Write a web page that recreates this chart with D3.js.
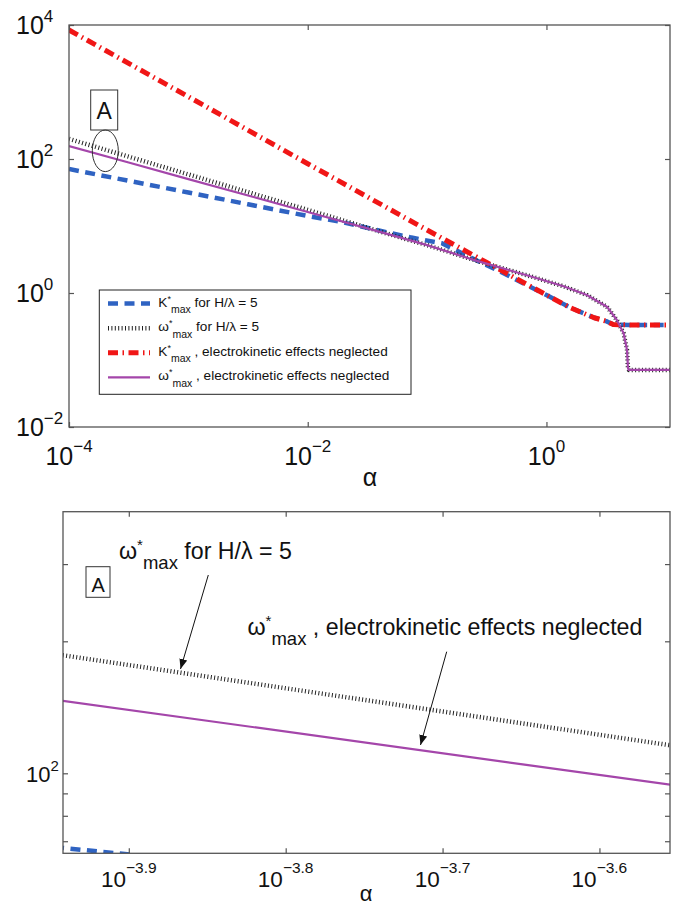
<!DOCTYPE html>
<html><head><meta charset="utf-8">
<script src="https://cdn.jsdelivr.net/npm/d3@7"></script>
<style>
body{margin:0;background:#fff}
svg{display:block}
text{font-family:"Liberation Sans",Arial,Helvetica,sans-serif;fill:#111;white-space:pre}
</style>
</head><body>
<svg id="c" width="678" height="911"></svg>
<script>
// ---------- data ----------
const alphaBlue = [0.0001,0.000316,0.001,0.00316,0.01,0.0187,0.0379,0.0721,0.133,0.251,0.398,0.631,1.0,1.585,2.512,3.162,3.631,5.0,10.84];
const kBlue     = [70.8,47.3,31.6,21.1,14.1,11.6,8.71,6.78,5.52,3.16,2.14,1.41,0.933,0.603,0.427,0.380,0.339,0.333,0.333];

const alphaRed = [0.0001,0.001,0.01,0.1,0.316,1.0,1.585,2.512,3.162,3.631,5.0,10.84];
const kRed     = [8414,851,85.1,8.71,2.85,0.933,0.603,0.427,0.380,0.339,0.333,0.333];

const alphaOmega = [0.0001,0.000316,0.001,0.00316,0.01,0.0316,0.0631,0.1,0.261,0.731,1.39,2.18,3.21,3.89,4.43,4.73,4.82,4.90,10.84];
const wPurple    = [156.3,88.5,50.1,28.5,16.2,9.23,6.53,5.19,3.02,1.78,1.26,0.933,0.625,0.395,0.251,0.141,0.0759,0.0710,0.0710];
const wDotted    = [199.5,108.4,58.9,32.0,17.4,9.44,6.53,5.19,3.02,1.78,1.26,0.933,0.625,0.395,0.251,0.141,0.0759,0.0710,0.0710];

const xTicksTop = [1e-4,1e-2,1];
const xTickExpTop = ["\u22124","\u22122","0"];
const yTicksTop = [1e-2,1,1e2,1e4];
const yTickExpTop = ["\u22122","0","2","4"];

const xTicksBot = [1.2589e-4,1.5849e-4,1.9953e-4,2.5119e-4];
const xTickExpBot = ["\u22123.9","\u22123.8","\u22123.7","\u22123.6"];
const yTicksBotMajor = [100];
const yTickExpBot = ["2"];
const yTicksBotMinor = [70,80,90,200,300];

const legendLabels = [
  {sym:"K", rest:" for H/\u03bb = 5"},
  {sym:"\u03c9", rest:" for H/\u03bb = 5"},
  {sym:"K", rest:" , electrokinetic effects neglected"},
  {sym:"\u03c9", rest:" , electrokinetic effects neglected"}
];

// ---------- styles ----------
const COL_BLUE="#2f63c2", COL_RED="#f01616", COL_PURPLE="#a446aa", COL_DOT="#222";
const FRAME="#555";

const svg = d3.select("#c");
const defs = svg.append("defs");
defs.append("clipPath").attr("id","clipT").append("rect").attr("x",69).attr("y",25).attr("width",601).attr("height",402);
defs.append("clipPath").attr("id","clipB").append("rect").attr("x",63).attr("y",511.7).attr("width",607).attr("height",341.6);
defs.append("marker").attr("id","arr").attr("viewBox","0 0 10 10").attr("refX",10).attr("refY",5)
  .attr("markerWidth",10).attr("markerHeight",10).attr("markerUnits","userSpaceOnUse").attr("orient","auto")
  .append("path").attr("d","M0,1 L10,5 L0,9 Z").attr("fill","#111");

function zip(a,b){return a.map((v,i)=>[v,b[i]]);}

const styles = {
  blue:  {stroke:COL_BLUE, w:4.5, dash:"10 6.5"},
  dot:   {stroke:COL_DOT, w:4.5, dash:"1 2.4"},
  red:   {stroke:COL_RED, w:5, dash:"10 4.5 1.5 4.5"},
  purple:{stroke:COL_PURPLE, w:2.2, dash:null}
};
const series = [
  {key:"blue", d:zip(alphaBlue,kBlue)},
  {key:"dot", d:zip(alphaOmega,wDotted)},
  {key:"red", d:zip(alphaRed,kRed)},
  {key:"purple", d:zip(alphaOmega,wPurple)}
];

function powLabel(g, x, y, exp, fs, sfs, rise, anchor){
  const t = g.append("text").attr("x",x).attr("y",y).attr("text-anchor",anchor).style("font-size",fs+"px");
  t.append("tspan").text("10");
  t.append("tspan").attr("dy",-rise).style("font-size",sfs+"px").text(exp);
  return t;
}

function drawPanel(opt){
  const {x,y,clip,L,R,T,B} = opt;
  const g = svg.append("g");
  g.append("rect").attr("x",L).attr("y",T).attr("width",R-L).attr("height",B-T).attr("fill","#fff");
  const lines = g.append("g").attr("clip-path",`url(#${clip})`);
  const line = d3.line().x(d=>x(d[0])).y(d=>y(d[1]));
  series.forEach(s=>{
    const st = styles[s.key];
    lines.append("path").attr("d",line(s.d)).attr("fill","none").attr("stroke",st.stroke)
      .attr("stroke-width",st.w).attr("stroke-dasharray",st.dash).attr("stroke-linejoin","round");
  });
  const tl = 5;
  g.append("g").attr("transform",`translate(0,${B})`).call(d3.axisBottom(x).tickValues(opt.xt).tickSize(-tl).tickFormat(""));
  g.append("g").attr("transform",`translate(0,${T})`).call(d3.axisTop(x).tickValues(opt.xt).tickSize(-tl).tickFormat(""));
  g.append("g").attr("transform",`translate(${L},0)`).call(d3.axisLeft(y).tickValues(opt.yt).tickSize(-tl).tickFormat(""));
  g.append("g").attr("transform",`translate(${R},0)`).call(d3.axisRight(y).tickValues(opt.yt).tickSize(-tl).tickFormat(""));
  g.selectAll(".domain").remove();
  g.selectAll(".tick line").attr("stroke",FRAME).attr("stroke-width",1.2);
  g.append("rect").attr("x",L).attr("y",T).attr("width",R-L).attr("height",B-T)
    .attr("fill","none").attr("stroke",FRAME).attr("stroke-width",1.3);
  return g;
}

// ---------- top panel ----------
const xT = d3.scaleLog().domain([1e-4,10.84]).range([69,670]);
const yT = d3.scaleLog().domain([1e-2,1e4]).range([427,25]);
drawPanel({x:xT,y:yT,clip:"clipT",L:69,R:670,T:25,B:427,xt:xTicksTop,yt:yTicksTop});

xTicksTop.forEach((v,i)=>powLabel(svg, xT(v), 465, xTickExpTop[i], 25, 17, 13, "middle"));
yTicksTop.forEach((v,i)=>powLabel(svg, 16, yT(v)+9, yTickExpTop[i], 25, 17, 12, "start"));
svg.append("text").attr("x",370).attr("y",486).attr("text-anchor","middle").style("font-size","25px").text("\u03b1");

svg.append("rect").attr("x",90.7).attr("y",90).attr("width",27).attr("height",40).attr("fill","#fff").attr("stroke","#333").attr("stroke-width",1);
svg.append("text").attr("x",104.2).attr("y",118.5).attr("text-anchor","middle").style("font-size","23px").text("A");
svg.append("ellipse").attr("cx",105.3).attr("cy",150.8).attr("rx",13).attr("ry",20.8).attr("fill","none").attr("stroke","#333").attr("stroke-width",1);

// legend
const lg = svg.append("g");
lg.append("rect").attr("x",99.3).attr("y",290).attr("width",311.7).attr("height",104.3).attr("fill","#fff").attr("stroke","#222").attr("stroke-width",1);
const rowsY = [303.5,328.3,352.8,377.3];
["blue","dot","red","purple"].forEach((k,i)=>{
  const st = styles[k];
  lg.append("line").attr("x1",108).attr("x2",150).attr("y1",rowsY[i]).attr("y2",rowsY[i])
    .attr("stroke",st.stroke).attr("stroke-width",st.w).attr("stroke-dasharray",st.dash);
  const t = lg.append("text").attr("x",158.3).attr("y",rowsY[i]+3).style("font-size","13.6px");
  t.append("tspan").text(legendLabels[i].sym);
  t.append("tspan").attr("dy",-5).style("font-size","9px").text("*");
  t.append("tspan").attr("dy",11.5).style("font-size","10.5px").text("max");
  t.append("tspan").attr("dy",-6.5).text(legendLabels[i].rest);
});

// ---------- bottom panel ----------
const xB = d3.scaleLog().domain([1.143e-4,2.786e-4]).range([63,670]);
const yB = d3.scaleLog().domain([65.7,395]).range([853.3,511.7]);
drawPanel({x:xB,y:yB,clip:"clipB",L:63,R:670,T:511.7,B:853.3,xt:xTicksBot,yt:yTicksBotMajor.concat(yTicksBotMinor)});

xTicksBot.forEach((v,i)=>powLabel(svg, xB(v), 886.5, xTickExpBot[i], 22.5, 15.5, 14, "middle"));
yTicksBotMajor.forEach((v,i)=>powLabel(svg, 26, yB(v)+8.4, yTickExpBot[i], 22, 15, 11, "start"));
svg.append("text").attr("x",366).attr("y",901).attr("text-anchor","middle").style("font-size","22px").text("\u03b1");

svg.append("rect").attr("x",86).attr("y",566.7).attr("width",24).attr("height",30.6).attr("fill","#fff").attr("stroke","#333").attr("stroke-width",1);
svg.append("text").attr("x",98.2).attr("y",591.7).attr("text-anchor","middle").style("font-size","20px").text("A");

function annot(x,y,sym,rest){
  const t = svg.append("text").attr("x",x).attr("y",y).style("font-size","23.2px");
  t.append("tspan").text(sym);
  t.append("tspan").attr("dy",-9).style("font-size","15px").text("*");
  t.append("tspan").attr("dy",19).style("font-size","18.5px").text("max");
  t.append("tspan").attr("dy",-10).text(rest);
}
annot(119,558.5,"\u03c9"," for H/\u03bb = 5");
annot(247.5,635,"\u03c9"," , electrokinetic effects neglected");

svg.append("line").attr("x1",208.3).attr("y1",575).attr("x2",180.5).attr("y2",669).attr("stroke","#111").attr("stroke-width",1).attr("marker-end","url(#arr)");
svg.append("line").attr("x1",446.7).attr("y1",651.7).attr("x2",420.5).attr("y2",745).attr("stroke","#111").attr("stroke-width",1).attr("marker-end","url(#arr)");
</script>
</body></html>
